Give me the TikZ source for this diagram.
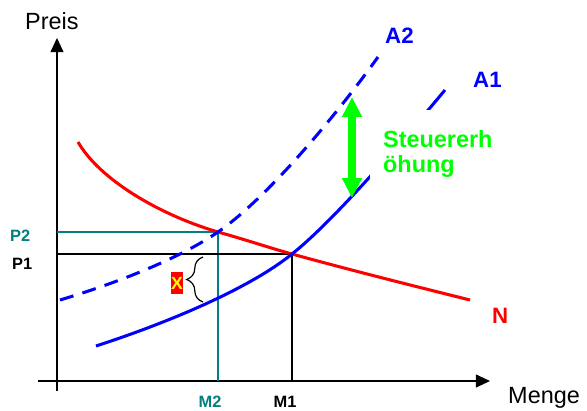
\documentclass[tikz,border=0pt]{standalone}
\usepackage{fontspec}
\setmainfont{Liberation Sans}
\usetikzlibrary{arrows.meta, decorations.pathreplacing, calc}
\definecolor{lineBlue}{RGB}{0,0,255}
\definecolor{lineRed}{RGB}{255,0,0}
\definecolor{lineGreen}{RGB}{0,255,0}
\definecolor{lineTeal}{RGB}{0,128,128}
\definecolor{boxYellow}{RGB}{255,255,0}
\tikzset{
  >={Triangle[length=12pt, width=11pt]},
  axis/.style={->, line width=1.2pt, draw=black},
  supply/.style={line width=2.6pt, draw=lineBlue},
  supplyup/.style={supply, dash pattern=on 12pt off 8pt},
  demand/.style={line width=2.6pt, draw=lineRed},
  guide/.style={line width=1pt},
  taxarrow/.style={{Triangle[length=17pt, width=16pt]}-{Triangle[length=17pt, width=16pt]},
    line width=6.5pt, draw=lineGreen},
  curvelabel/.style={font=\fontsize{19}{22}\selectfont\bfseries, inner sep=0pt},
  axislabel/.style={font=\fontsize{20}{24}\selectfont, inner sep=0pt},
  ticklabel/.style={font=\fontsize{14}{16}\selectfont\bfseries, inner sep=0pt},
}

\begin{document}
\begin{tikzpicture}[x=0.03cm, y=-0.03cm]
  \useasboundingbox (0,0) rectangle (587,410);

  % ---- Axes --------------------------------------------------------------
  \coordinate (O)    at (57,381);
  \coordinate (ytop) at (57,38);
  \coordinate (xend) at (490,381);
  \draw[axis] (57,391) -- (ytop);
  \draw[axis] (38,381) -- (xend);
  \node[axislabel, anchor=base west] (preis) at (25,29) {Preis};
  \node[axislabel, anchor=base west] (menge) at (508,403) {Menge};

  % ---- Equilibria --------------------------------------------------------
  \coordinate (E1) at (292,254);
  \coordinate (E2) at (218,232);
  \draw[guide, draw=lineTeal] (E2 -| O) -- (E2) -- (E2 |- O);
  \draw[guide] (E1 -| O) -- (E1) -- (E1 |- O);

  % ---- Curves ------------------------------------------------------------
  \draw[demand] (78,142) .. controls (100,180) and (160,215) .. (E2)
    .. controls (250,241) and (270,248) .. (E1)
    .. controls (350,270) and (410,285) .. (470,300);
  \draw[supplyup] (60,300) .. controls (120,282) and (180,258) .. (E2)
    .. controls (270,196) and (340,110) .. (378,57);
  \draw[supply] (96,346) .. controls (170,322) and (250,288) .. (E1)
    .. controls (330,224) and (395,150) .. (445,90);

  % text box hides part of A1
  \node[font=\fontsize{20}{21.3}\selectfont\bfseries, text=lineGreen, fill=white,
    align=left, anchor=north west, inner xsep=11pt, inner ysep=17pt]
    (tax) at (370,110) {Steuererh\\öhung};
  \coordinate (taxtop) at (352,97);
  \coordinate (taxbot) at (352,198);
  \draw[taxarrow] (taxtop) -- (taxbot);

  % ---- Labels ------------------------------------------------------------
  \node[curvelabel, text=lineBlue, anchor=base west] (a2) at (385,43) {A2};
  \node[curvelabel, text=lineBlue, anchor=base west] (a1) at (473,87) {A1};
  \node[curvelabel, text=lineRed, anchor=base west] (n) at (492,323) {N};

  \node[ticklabel, text=lineTeal, anchor=base west] (p2) at (10,241.5) {P2};
  \node[ticklabel, anchor=base west] (p1) at (12,269) {P1};
  \node[ticklabel, text=lineTeal, anchor=base] (m2) at (210,407) {M2};
  \node[ticklabel, anchor=base] (m1) at (285,407) {M1};

  % tax wedge marker
  \node[fill=lineRed, text=boxYellow, font=\fontsize{15}{16}\selectfont\bfseries,
    minimum width=11pt, minimum height=18pt, inner sep=0pt] (x) at (177,283) {X};
  \draw[line width=1pt, decorate, decoration={brace, amplitude=14pt}]
    (203,302) -- (203,257);
\end{tikzpicture}
\end{document}
